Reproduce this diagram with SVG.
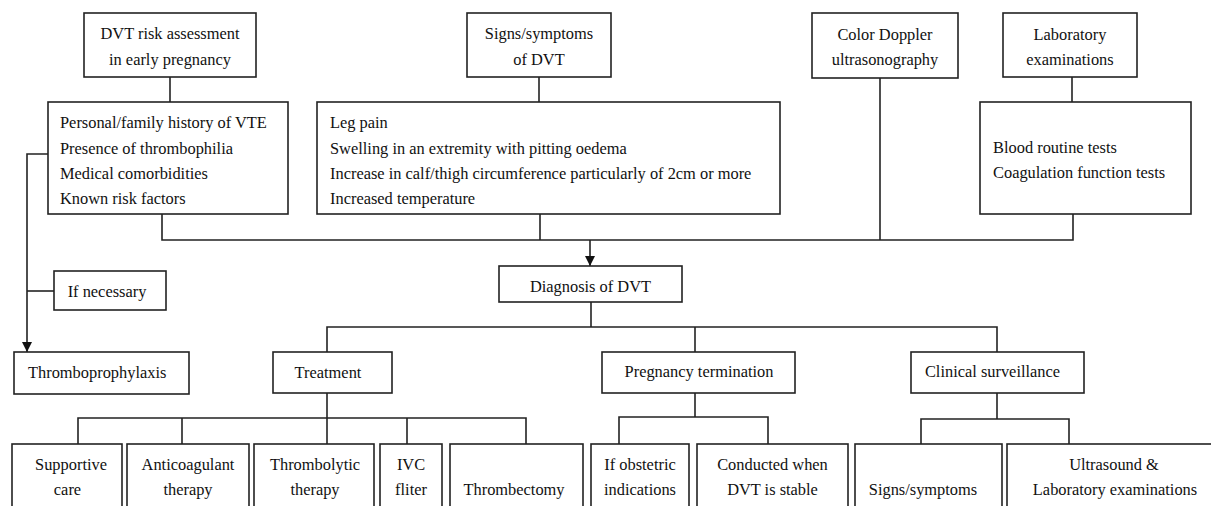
<svg xmlns="http://www.w3.org/2000/svg" width="1211" height="506" viewBox="0 0 1211 506">
<defs>
<style>
rect{fill:#fff;stroke:#222;stroke-width:1.6}
text{font-family:"Liberation Serif","Times New Roman",serif;font-size:16.4px;fill:#111}
.c{text-anchor:middle}
#connectors path{fill:none;stroke:#222;stroke-width:1.6}
</style>
<marker id="arr" viewBox="0 0 10 10" refX="10" refY="5" markerWidth="10" markerHeight="10" markerUnits="userSpaceOnUse" orient="auto">
<path d="M0,0 L10,5 L0,10 z" fill="#111"/>
</marker>
</defs>
<rect x="0" y="0" width="1211" height="506" style="fill:#fff;stroke:none"/>
<g id="connectors">
<path d="M170,77 V102"/>
<path d="M539,77 V102"/>
<path d="M1072,77 V102"/>
<path d="M162,214 V240 H1073 V214"/>
<path d="M540,214 V240"/>
<path d="M880,78 V240"/>
<path d="M590,240 V266" marker-end="url(#arr)"/>
<path d="M48,154 H27 V352" marker-end="url(#arr)"/>
<path d="M27,291 H54"/>
<path d="M591,302 V327"/>
<path d="M327,352 V327 H997 V352"/>
<path d="M695,327 V352"/>
<path d="M327,393 V444"/>
<path d="M78,444 V418 H526 V444"/>
<path d="M182,418 V444"/>
<path d="M407,418 V444"/>
<path d="M695,393 V417"/>
<path d="M619,444 V417 H768 V444"/>
<path d="M997,393 V419"/>
<path d="M921,444 V419 H1069 V444"/>
</g>
<g id="n-risk"><rect x="84" y="13" width="172" height="64"/><text class="c" x="170" y="39">DVT risk assessment</text><text class="c" x="170" y="65">in early pregnancy</text></g>
<g id="n-signs"><rect x="467" y="13" width="144" height="64"/><text class="c" x="539" y="39">Signs/symptoms</text><text class="c" x="539" y="65">of DVT</text></g>
<g id="n-doppler"><rect x="812" y="13" width="146" height="65"/><text class="c" x="885" y="40">Color Doppler</text><text class="c" x="885" y="65">ultrasonography</text></g>
<g id="n-lab"><rect x="1003" y="13" width="134" height="64"/><text class="c" x="1070" y="40">Laboratory</text><text class="c" x="1070" y="65">examinations</text></g>
<g id="n-risklist"><rect x="48" y="102" width="240" height="112"/><text x="60" y="128">Personal/family history of VTE</text><text x="60" y="154">Presence of thrombophilia</text><text x="60" y="179">Medical comorbidities</text><text x="60" y="204">Known risk factors</text></g>
<g id="n-signlist"><rect x="317" y="102" width="463" height="112"/><text x="330" y="128">Leg pain</text><text x="330" y="154">Swelling in an extremity with pitting oedema</text><text x="330" y="179">Increase in calf/thigh circumference particularly of 2cm or more</text><text x="330" y="204">Increased temperature</text></g>
<g id="n-blood"><rect x="980" y="102" width="211" height="112"/><text x="993" y="153">Blood routine tests</text><text x="993" y="178">Coagulation function tests</text></g>
<g id="n-diag"><rect x="499" y="266" width="183" height="36"/><text class="c" x="590.5" y="292">Diagnosis of DVT</text></g>
<g id="n-ifnec"><rect x="54" y="271" width="112" height="39"/><text class="c" x="107" y="297">If necessary</text></g>
<g id="n-proph"><rect x="14" y="352" width="175" height="42"/><text x="28" y="378">Thromboprophylaxis</text></g>
<g id="n-treat"><rect x="273" y="352" width="119" height="41"/><text class="c" x="328" y="378">Treatment</text></g>
<g id="n-term"><rect x="602" y="352" width="193" height="41"/><text class="c" x="699" y="377">Pregnancy termination</text></g>
<g id="n-surv"><rect x="911" y="352" width="173" height="41"/><text class="c" x="992.5" y="377">Clinical surveillance</text></g>
<g id="n-support"><rect x="12" y="444" width="110" height="80"/><text class="c" x="71" y="470">Supportive</text><text class="c" x="67.5" y="495">care</text></g>
<g id="n-anti"><rect x="127" y="444" width="122" height="80"/><text class="c" x="188" y="470">Anticoagulant</text><text class="c" x="188" y="495">therapy</text></g>
<g id="n-lytic"><rect x="254" y="444" width="120" height="80"/><text class="c" x="315" y="470">Thrombolytic</text><text class="c" x="315" y="495">therapy</text></g>
<g id="n-ivc"><rect x="380" y="444" width="62" height="80"/><text class="c" x="411" y="470">IVC</text><text class="c" x="411" y="495">fliter</text></g>
<g id="n-ectomy"><rect x="450" y="444" width="133" height="80"/><text class="c" x="514" y="495">Thrombectomy</text></g>
<g id="n-obst"><rect x="591" y="444" width="98" height="80"/><text class="c" x="640" y="470">If obstetric</text><text class="c" x="640" y="495">indications</text></g>
<g id="n-stable"><rect x="697" y="444" width="151" height="80"/><text class="c" x="772.5" y="470">Conducted when</text><text class="c" x="772.5" y="495">DVT is stable</text></g>
<g id="n-ss"><rect x="855" y="444" width="147" height="80"/><text class="c" x="923" y="495">Signs/symptoms</text></g>
<g id="n-us"><rect x="1007" y="444" width="220" height="80"/><text class="c" x="1114" y="470">Ultrasound &amp;</text><text class="c" x="1115" y="495">Laboratory examinations</text></g>
</svg>
